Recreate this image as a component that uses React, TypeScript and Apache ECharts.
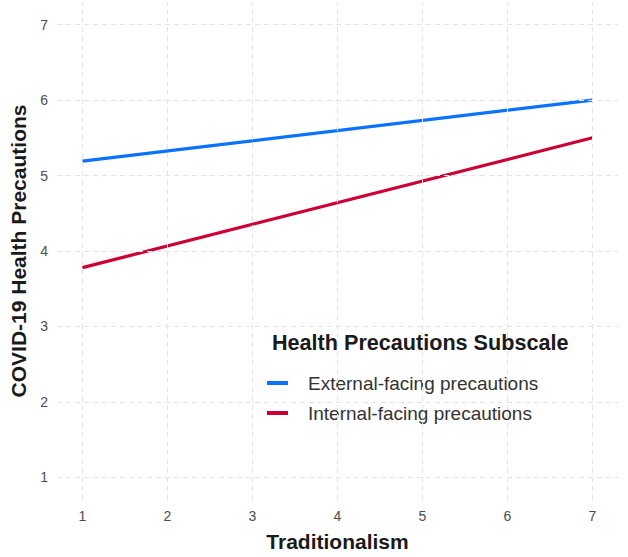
import React, { useEffect, useRef } from "react";
import * as echarts from "echarts";

const xTicks = [1, 2, 3, 4, 5, 6, 7];
const yTicks = [1, 2, 3, 4, 5, 6, 7];
const seriesNames = ["External-facing precautions", "Internal-facing precautions"];
const externalValues: [number, number][] = [
  [1, 5.19],
  [7, 6.0],
];
const internalValues: [number, number][] = [
  [1, 3.78],
  [7, 5.5],
];
const xTitle = "Traditionalism";
const yTitle = "COVID-19 Health Precautions";
const legendTitle = "Health Precautions Subscale";

const FONT = "'Liberation Sans', Arial, sans-serif";

export default function App() {
  const ref = useRef<HTMLDivElement>(null);
  useEffect(() => {
    document.body.style.margin = "0";
    const chart = echarts.init(ref.current!, undefined, { renderer: "svg" });
    const gridLine = {
      color: "#e3e3e3",
      width: 1,
      type: [5, 4] as number[],
    };
    chart.setOption({
      animation: false,
      backgroundColor: "#ffffff",
      textStyle: { fontFamily: FONT },
      grid: { left: 53, right: 10, top: 2, bottom: 55, containLabel: false },
      title: {
        text: legendTitle,
        left: 272,
        top: 331,
        padding: 0,
        textStyle: { fontFamily: FONT, fontSize: 21.6, fontWeight: "bold", color: "#1a1a1a" },
      },
      legend: {
        data: seriesNames,
        orient: "vertical",
        left: 267,
        top: 373,
        padding: 0,
        itemWidth: 21,
        itemHeight: 4,
        itemGap: 10,
        icon: "rect",
        textStyle: {
          fontFamily: FONT,
          fontSize: 19,
          color: "#333333",
          lineHeight: 20,
          padding: [0, 0, 0, 15],
        },
      },
      xAxis: {
        type: "value",
        min: 0.7,
        max: 7.3,
        name: xTitle,
        nameLocation: "middle",
        nameGap: 31,
        nameTextStyle: { fontFamily: FONT, fontSize: 21, fontWeight: "bold", color: "#1a1a1a" },
        axisLine: { show: false },
        axisTick: { show: false },
        splitLine: { show: false },
        axisLabel: {
          customValues: xTicks,
          margin: 9,
          fontFamily: FONT,
          fontSize: 14,
          color: "#4d4d4d",
        },
      },
      yAxis: {
        type: "value",
        min: 0.7,
        max: 7.3,
        name: yTitle,
        nameLocation: "middle",
        nameRotate: 90,
        nameGap: 28,
        nameTextStyle: { fontFamily: FONT, fontSize: 21, fontWeight: "bold", color: "#1a1a1a" },
        axisLine: { show: false },
        axisTick: { show: false },
        splitLine: { show: false },
        axisLabel: {
          customValues: yTicks,
          margin: 9,
          fontFamily: FONT,
          fontSize: 14,
          color: "#4d4d4d",
        },
      },
      series: [
        {
          name: "grid",
          type: "line",
          data: externalValues,
          z: 1,
          zlevel: 0,
          silent: true,
          showSymbol: false,
          lineStyle: { opacity: 0 },
          markLine: {
            silent: true,
            symbol: "none",
            label: { show: false },
            lineStyle: gridLine,
            emphasis: { disabled: true },
            data: [
              ...yTicks.map((v) => ({ yAxis: v })),
              ...xTicks.map((v) => ({ xAxis: v })),
            ],
          },
        },
        {
          name: seriesNames[0],
          type: "line",
          data: externalValues,
          z: 3,
          showSymbol: false,
          color: "#0a72ff",
          lineStyle: { width: 3.2, color: "#0a72ff" },
        },
        {
          name: seriesNames[1],
          type: "line",
          data: internalValues,
          z: 3,
          showSymbol: false,
          color: "#cc0036",
          lineStyle: { width: 3.2, color: "#cc0036" },
        },
      ],
    });
    return () => chart.dispose();
  }, []);
  return (
    <div
      ref={ref}
      style={{ position: "absolute", left: 0, top: 0, width: 628, height: 557 }}
    />
  );
}
